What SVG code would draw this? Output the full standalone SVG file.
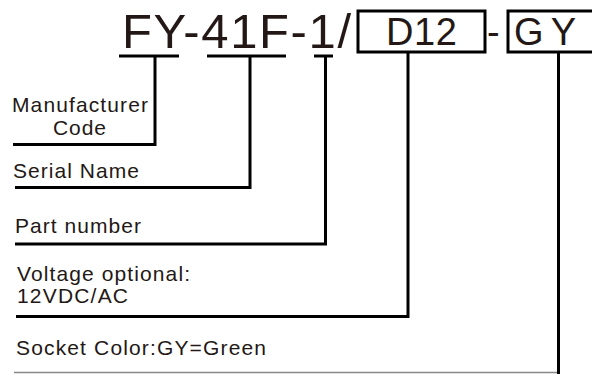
<svg xmlns="http://www.w3.org/2000/svg" width="592" height="374" viewBox="0 0 592 374">
<style>
.t{font-family:"Liberation Sans",Arial,sans-serif;fill:#231815}
.big{font-size:49px}
.mid{font-size:38px}
.lab{font-size:21px}
.ln{fill:none;stroke:#000;stroke-width:3}
.thin{fill:none;stroke:#888;stroke-width:1.5}
</style>
<rect width="592" height="374" fill="#fff"/>
<g id="code">
<text class="t big" x="122" y="48" textLength="229" lengthAdjust="spacing">FY-41F-1/</text>
<g id="box-d12"><rect class="ln" x="358" y="11" width="127" height="41"/><text class="t mid" x="386" y="45" textLength="71" lengthAdjust="spacing">D12</text></g>
<text class="t mid" x="487" y="45">-</text>
<g id="box-gy"><rect class="ln" x="508" y="11" width="100" height="41"/><text class="t mid" x="514" y="45" textLength="62" lengthAdjust="spacing">GY</text></g>
</g>
<g id="labels">
<g id="manufacturer"><text class="t lab" x="12" y="112" textLength="136" lengthAdjust="spacing">Manufacturer</text><text class="t lab" x="53" y="135" textLength="53" lengthAdjust="spacing">Code</text></g>
<g id="serial"><text class="t lab" x="13" y="178" textLength="126" lengthAdjust="spacing">Serial Name</text></g>
<g id="part"><text class="t lab" x="15" y="233" textLength="126" lengthAdjust="spacing">Part number</text></g>
<g id="voltage"><text class="t lab" x="17" y="281" textLength="173" lengthAdjust="spacing">Voltage optional:</text><text class="t lab" x="17" y="303" textLength="111" lengthAdjust="spacing">12VDC/AC</text></g>
<g id="socket"><text class="t lab" x="16" y="355" textLength="250" lengthAdjust="spacing">Socket Color:GY=Green</text></g>
</g>
<g id="connectors">
<path class="ln" d="M119 56H179M155 56V144.5H13"/>
<path class="ln" d="M207 56H286M250 56V187.5H15"/>
<path class="ln" d="M314 56H333M325.5 56V244H15"/>
<path class="ln" d="M408 52V316.5H16"/>
<path class="ln" d="M558.5 52V374"/>
<path class="thin" d="M14 372.5H557"/>
</g>
</svg>
